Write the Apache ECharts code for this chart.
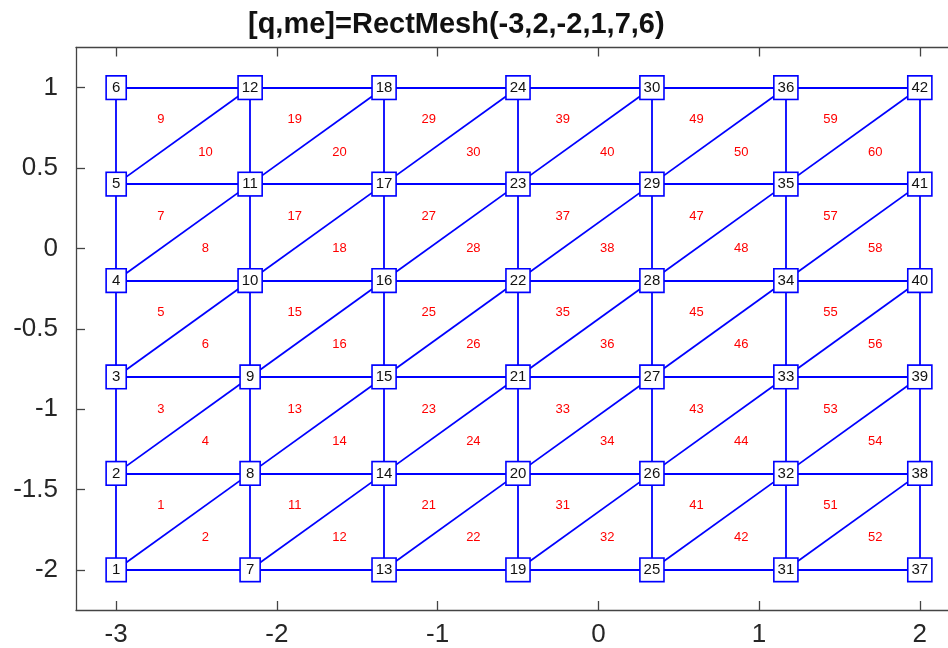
<!DOCTYPE html>
<html>
<head>
<meta charset="utf-8">
<script src="https://cdn.jsdelivr.net/npm/echarts@6/dist/echarts.min.js"></script>
<style>html,body{margin:0;padding:0;background:#fff;}#c{width:948px;height:648px;}</style>
</head>
<body>
<div id="c"></div>
<script>
// Mesh node coordinates (RectMesh(-3,2,-2,1,7,6))
var xNodes = [-3, -2.1667, -1.3333, -0.5, 0.3333, 1.1667, 2];
var yNodes = [-2, -1.4, -0.8, -0.2, 0.4, 1];
var xTicks = [-3, -2, -1, 0, 1, 2];
var yTicks = [-2, -1.5, -1, -0.5, 0, 0.5, 1];
var titleText = '[q,me]=RectMesh(-3,2,-2,1,7,6)';

var FONT = "'Liberation Sans', Arial, Helvetica, sans-serif";
var nx = xNodes.length, ny = yNodes.length;
var nodes = [];
for (var i = 0; i < nx; i++) {
  for (var j = 0; j < ny; j++) {
    nodes.push({ value: [xNodes[i], yNodes[j]], id: i * ny + j + 1 });
  }
}
var edges = [];
for (var j = 0; j < ny; j++) {
  for (var i = 0; i < nx - 1; i++) edges.push({ coords: [[xNodes[i], yNodes[j]], [xNodes[i + 1], yNodes[j]]] });
}
for (var i = 0; i < nx; i++) {
  for (var j = 0; j < ny - 1; j++) edges.push({ coords: [[xNodes[i], yNodes[j]], [xNodes[i], yNodes[j + 1]]] });
}
for (var i = 0; i < nx - 1; i++) {
  for (var j = 0; j < ny - 1; j++) edges.push({ coords: [[xNodes[i], yNodes[j]], [xNodes[i + 1], yNodes[j + 1]]] });
}
var tris = [];
for (var i = 0; i < nx - 1; i++) {
  for (var j = 0; j < ny - 1; j++) {
    var c = i * (ny - 1) + j;
    var a = [xNodes[i], yNodes[j]], b = [xNodes[i + 1], yNodes[j]], cc = [xNodes[i + 1], yNodes[j + 1]], d = [xNodes[i], yNodes[j + 1]];
    tris.push({ value: [(a[0] + d[0] + cc[0]) / 3, (a[1] + d[1] + cc[1]) / 3], id: 2 * c + 1 });
    tris.push({ value: [(a[0] + b[0] + cc[0]) / 3, (a[1] + b[1] + cc[1]) / 3], id: 2 * c + 2 });
  }
}

var axisLineStyle = { color: '#444', width: 1.3 };
var chart = echarts.init(document.getElementById('c'));
chart.setOption({
  animation: false,
  backgroundColor: '#fff',
  title: {
    text: titleText, left: 243, top: 5,
    textStyle: { fontFamily: FONT, fontWeight: 'bold', fontSize: 29, color: '#111' }
  },
  grid: { left: 76, top: 47.5, width: 884, height: 562.5, containLabel: false, outerBoundsMode: 'none' },
  xAxis: [{
    type: 'value', position: 'bottom', min: -3.25, max: 2.25,
    axisLine: { show: true, onZero: false, lineStyle: axisLineStyle },
    axisTick: { show: true, inside: true, length: 9, customValues: xTicks, lineStyle: axisLineStyle },
    axisLabel: { show: true, customValues: xTicks, margin: 12, fontSize: 26, color: '#262626', fontFamily: FONT },
    splitLine: { show: false }
  }, {
    type: 'value', position: 'top', min: -3.25, max: 2.25,
    axisLine: { show: true, onZero: false, lineStyle: axisLineStyle },
    axisTick: { show: true, inside: true, length: 9, customValues: xTicks, lineStyle: axisLineStyle },
    axisLabel: { show: false },
    splitLine: { show: false }
  }],
  yAxis: [{
    type: 'value', position: 'left', min: -2.25, max: 1.25,
    axisLine: { show: true, onZero: false, lineStyle: axisLineStyle },
    axisTick: { show: true, inside: true, length: 9, customValues: yTicks, lineStyle: axisLineStyle },
    axisLabel: { show: true, customValues: yTicks, margin: 18, fontSize: 26, color: '#262626', fontFamily: FONT },
    splitLine: { show: false }
  }, {
    type: 'value', position: 'right', min: -2.25, max: 1.25,
    axisLine: { show: true, onZero: false, lineStyle: axisLineStyle },
    axisTick: { show: true, inside: true, length: 9, customValues: yTicks, lineStyle: axisLineStyle },
    axisLabel: { show: false },
    splitLine: { show: false }
  }],
  series: [{
    type: 'lines', coordinateSystem: 'cartesian2d', xAxisIndex: 0, yAxisIndex: 0,
    data: edges, silent: true, z: 2, zlevel: 0,
    lineStyle: { color: '#0000ff', width: 1.8, opacity: 1, curveness: 0 }
  }, {
    type: 'scatter', xAxisIndex: 0, yAxisIndex: 0, data: tris, silent: true, z: 3, zlevel: 1,
    symbolSize: 1, itemStyle: { color: 'rgba(255,255,255,0)' },
    label: {
      show: true, position: 'inside', formatter: function (p) { return String(p.data.id); },
      fontSize: 13, color: '#ff0000', opacity: 1, fontFamily: FONT
    }
  }, {
    type: 'scatter', xAxisIndex: 0, yAxisIndex: 0, data: nodes.map(function (n) {
      return { value: n.value, id: n.id, label: { width: n.id < 10 ? 14.5 : 18.5 } };
    }), silent: true, z: 4, zlevel: 2,
    symbolSize: 1, itemStyle: { color: 'rgba(255,255,255,0)' },
    label: {
      show: true, position: 'inside', formatter: function (p) { return String(p.data.id); },
      fontSize: 15, lineHeight: 15, color: '#111', align: 'center', verticalAlign: 'middle', opacity: 1,
      fontFamily: FONT,
      backgroundColor: '#ffffff', borderColor: '#0000ff', borderWidth: 1.6, padding: [3.5, 2]
    }
  }]
});
</script>
</body>
</html>
